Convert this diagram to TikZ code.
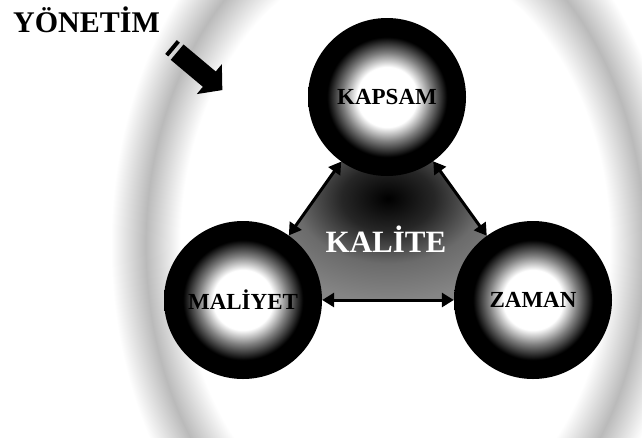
\documentclass[tikz,border=0pt]{standalone}
\usepackage{fontspec}
\setmainfont{Liberation Serif}
\usetikzlibrary{positioning,arrows.meta,backgrounds}
\pgfdeclareradialshading{ringshade}{\pgfpoint{0bp}{0bp}}{color(0bp)=(white); color(18.5bp)=(white); color(21.5bp)=(black!27); color(24.5bp)=(white); color(25bp)=(white); color(50bp)=(white)}
\pgfdeclareradialshading{sphere}{\pgfpoint{0bp}{0bp}}{color(0bp)=(white); color(9.5bp)=(white); color(14bp)=(black!50); color(19bp)=(black); color(25bp)=(black); color(50bp)=(black)}
\pgfdeclareradialshading{coreshade}{\pgfpoint{0bp}{0bp}}{color(0bp)=(black); color(8bp)=(black!85); color(16bp)=(black!58); color(25bp)=(black!48); color(50bp)=(black!48)}

\begin{document}
\begin{tikzpicture}[x=1pt, y=-1pt,
  ball/.style={circle, shading=sphere, minimum size=158pt, inner sep=0pt,
               font=\fontsize{23}{23}\selectfont\bfseries},
  arrowstyle/.style={{Triangle[length=12pt,width=14pt]}-{Triangle[length=12pt,width=14pt]}, line width=3pt}
]
  \useasboundingbox (0,0) rectangle (642,437);

  \node[ball] (kapsam) at (387,97) {KAPSAM};
  \node[ball] (maliyet) at (243,300) {MALİYET};
  \node[ball] (zaman) at (533,300) {ZAMAN};
  \node[text=white, inner sep=0pt, anchor=base,
        font=\fontsize{31}{31}\selectfont\bfseries] (kalite) at (386,252) {KALİTE};
  \node[inner sep=0pt, anchor=base west,
        font=\fontsize{30}{30}\selectfont\bfseries] (yonetim) at (13,32) {YÖNETİM};

  \begin{scope}[on background layer]
    \shade[shading=ringshade] (395,245) ellipse [x radius=290pt, y radius=392pt];
    \shade[shading=coreshade] (kapsam.center) -- (maliyet.center) -- (zaman.center) -- cycle;
  \end{scope}

  \draw[arrowstyle] (kapsam) -- (maliyet);
  \draw[arrowstyle] (kapsam) -- (zaman);
  \draw[arrowstyle] (maliyet) -- (zaman);

  % yonetim arrow
  \begin{scope}[shift={(171,47)}, rotate=-40]
    \fill (0,-9) rectangle (4,9);
    \fill (8,-10) -- (50,-10) -- (50,-19.5) -- (67,0) -- (50,19.5) -- (50,10) -- (8,10) -- cycle;
  \end{scope}
\end{tikzpicture}
\end{document}
